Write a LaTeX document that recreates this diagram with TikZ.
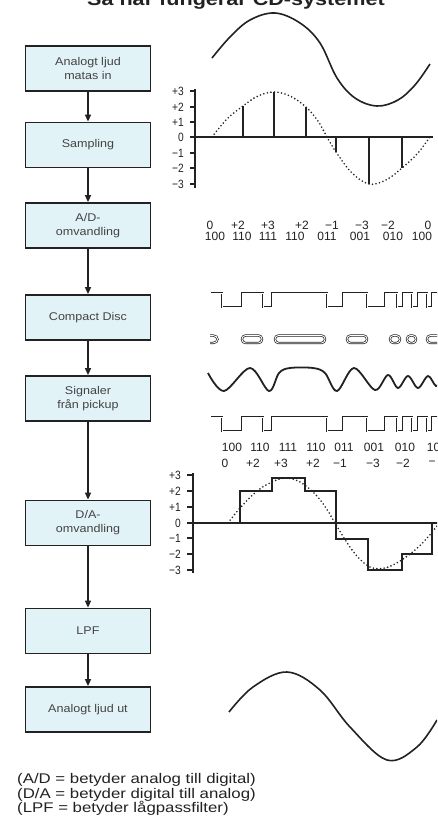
\documentclass[tikz,border=0pt]{standalone}
\usepackage{fontspec}
\setmainfont{Liberation Sans}
\newfontfamily\boxfont[FakeStretch=1.12]{Liberation Sans}
\newfontfamily\notefont[FakeStretch=1.2]{Liberation Sans}
\newfontfamily\labfont[FakeStretch=0.85]{Liberation Sans}
\usetikzlibrary{arrows.meta}
\definecolor{boxfill}{HTML}{E2F3F8}
\definecolor{ink}{HTML}{222222}
\begin{document}
\begin{tikzpicture}[x=1pt,y=-1pt,
  stage/.style={draw=ink, line width=1.8pt, fill=boxfill, minimum width=125pt, minimum height=45pt, inner sep=0pt, align=center, text=ink!85, font=\boxfont\fontsize{11.2}{14}\selectfont},
  flow/.style={draw=ink, line width=1.5pt, -{Triangle[length=7pt,width=6pt]}},
  wave/.style={draw=ink, line width=1.6pt},
  dotcurve/.style={draw=ink, line width=1.8pt, line cap=round, dash pattern=on 0pt off 3.6pt},
  sq/.style={draw=ink, line width=0.7pt, double=white, double distance=0.9pt},
  pit/.style={draw=ink, line width=0.7pt, double=white, double distance=0.9pt, rounded corners=3.5pt},
  axis/.style={draw=ink, line width=1.5pt},
  ticklab/.style={anchor=east, inner sep=0pt, text=ink, font=\labfont\fontsize{12}{13}\selectfont},
  code/.style={inner sep=0pt, text=ink, font=\fontsize{12}{13}\selectfont},
  efm/.pic={\draw[sq] (211,0) -- (222,0) -- (222,14) -- (242,14) -- (242,0) -- (263,0) -- (263,14) -- (272,14) -- (272,0) -- (327,0) -- (327,14) -- (343,14) -- (343,0) -- (367,0) -- (367,14) -- (385,14) -- (385,0) -- (397,0) -- (397,14) -- (403,14) -- (403,0) -- (412,0) -- (412,14) -- (418,14) -- (418,0) -- (427,0) -- (427,14) -- (432,14) -- (432,0) -- (442,0);}
]
\useasboundingbox (0,0) rectangle (437,817);
\fill[white] (0,0) rectangle (437,817);
\clip (0,0) rectangle (437,817);

% title (cut at top)
\node[anchor=base, inner sep=0pt, text=ink, font=\notefont\bfseries\fontsize{18}{20}\selectfont] (title) at (236,5) {Så här fungerar CD-systemet};

% flow chart
\node[stage] (b1) at (88,68.5) {Analogt ljud\\matas in};
\node[stage] (b2) at (88,145) {Sampling};
\node[stage] (b3) at (88,225.5) {A/D-\\omvandling};
\node[stage] (b4) at (88,317.5) {Compact Disc};
\node[stage] (b5) at (88,398.5) {Signaler\\från pickup};
\node[stage] (b6) at (88,523) {D/A-\\omvandling};
\node[stage] (b7) at (88,631) {LPF};
\node[stage] (b8) at (88,709.5) {Analogt ljud ut};
\draw[flow] (b1) -- (b2);
\draw[flow] (b2) -- (b3);
\draw[flow] (b3) -- (b4);
\draw[flow] (b4) -- (b5);
\draw[flow] (b5) -- (b6);
\draw[flow] (b6) -- (b7);
\draw[flow] (b7) -- (b8);

% analog input
\draw[wave] plot[smooth, tension=0.6] coordinates {(212,58) (230,37) (250,20) (275,13) (300,23) (320,43) (337,78) (355,98) (377,106) (398,100) (415,85) (430,64)};

% sampling plot
\draw[axis] (195,89) -- (195,188);
\draw[axis] (195,137) -- (433,137);
\foreach \yy/\lab in {91/+3,107/+2,122/+1,137/0,153/−1,168/−2,184/−3}{
  \draw[axis] (190,\yy) -- (195,\yy);
  \node[ticklab] at (184,\yy) {\lab};
}
\draw[dotcurve] plot[smooth, tension=0.6] coordinates {(212,137) (227,119) (243,106) (258,96) (274,92) (290,96) (306,107) (318,121) (327,137) (336,152) (352,173) (369,184) (386,180) (402,168) (417,154) (430,137)};
\foreach \xx/\yy in {243/106,274/92,306/107,336/152,369/184,402/168}{
  \draw[axis] (\xx,137) -- (\xx,\yy);
}

% A/D codes
\foreach \xx/\lab in {210/0,238/+2,268/+3,302/+2,332/−1,362/−3,388/−2,428/0}{
  \node[code] at (\xx,225) {\lab};
}
\foreach \xx/\lab in {215/100,242/110,268/111,295/110,327/011,360/001,393/010,422/100}{
  \node[code] at (\xx,236) {\lab};
}

% compact disc signal
\pic at (0,293) {efm};
% pits
\draw[sq] (210,335.5) -- (213,335.5) .. controls (219,335.5) and (219,343) .. (213,343) -- (210,343);
\draw[pit] (242,335.5) rectangle (262,343);
\draw[pit] (275,335.5) rectangle (325,343);
\draw[pit] (347,335.5) rectangle (367,343);
\draw[pit] (390,335.5) rectangle (400,343);
\draw[pit] (407,335.5) rectangle (416,343);
\draw[pit] (427,335.5) rectangle (445,343);
% pickup analog
\draw[wave, line width=1.8pt] plot[smooth, tension=0.55] coordinates {(208,373) (224,391) (250,368) (269,391) (279,373) (290,368) (313,368) (325,373) (337,391) (354,368) (375,390) (388,375) (398,388) (408,376) (418,388) (428,376) (436,386) (442,380)};
% pickup square
\pic at (0,417) {efm};

% decoded codes
\foreach \xx/\lab in {232/100,260/110,288/111,316/110,344/011,374/001,405/010,437/100}{
  \node[code] at (\xx,447) {\lab};
}
\foreach \xx/\lab in {225/0,253/+2,281/+3,313/+2,340/−1,373/−3,403/−2,432/−}{
  \node[code] at (\xx,463) {\lab};
}

% D/A plot
\draw[axis] (193,473) -- (193,573);
\draw[axis] (193,523) -- (440,523);
\foreach \yy/\lab in {475/+3,491/+2,507/+1,523/0,538/−1,554/−2,570/−3}{
  \draw[axis] (187,\yy) -- (193,\yy);
  \node[ticklab] at (181,\yy) {\lab};
}
\draw[dotcurve] plot[smooth, tension=0.6] coordinates {(228,523) (240,508) (256,492) (270,483) (285,478) (300,482) (315,494) (326,508) (335,523) (344,538) (356,555) (370,567) (385,568) (400,561) (415,550) (428,537) (440,522)};
\draw[axis] (240,523) -- (240,491) -- (272,491) -- (272,478) -- (305,478) -- (305,491) -- (336,491) -- (336,539) -- (368,539) -- (368,570) -- (402,570) -- (402,554) -- (432,554) -- (432,523);

% analog output
\draw[wave] plot[smooth, tension=0.6] coordinates {(229,712) (253,687) (287,672) (320,690) (350,727) (387,760) (417,747) (437,720)};

% footnote (last line cut at bottom edge)
\node[anchor=base west, inner sep=0pt, align=left, text=ink, font=\notefont\fontsize{14}{14.5}\selectfont] (note) at (17,812.5) {(A/D = betyder analog till digital)\\(D/A = betyder digital till analog)\\(LPF = betyder lågpassfilter)};
\end{tikzpicture}
\end{document}
